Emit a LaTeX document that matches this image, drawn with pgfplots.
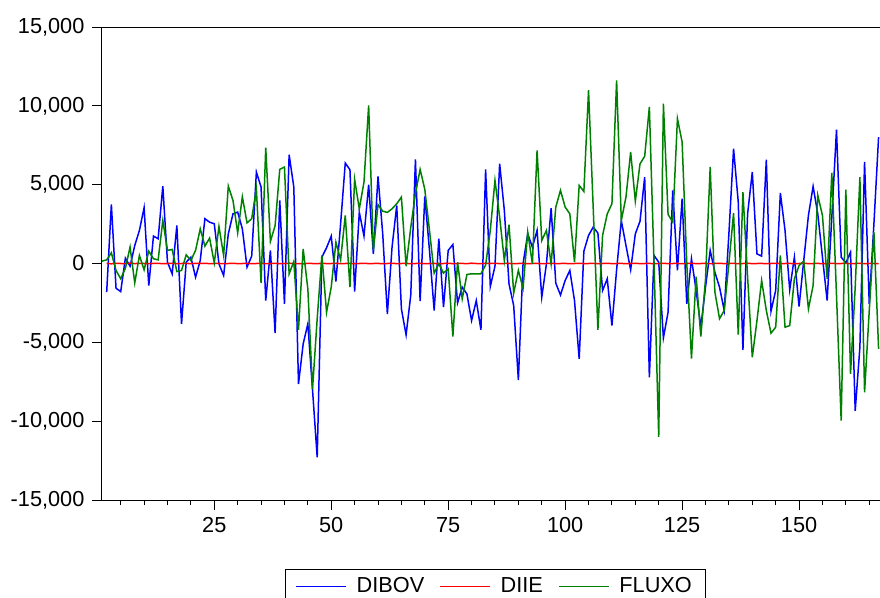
\documentclass[border=0pt]{standalone}
\usepackage{fontspec}
\setmainfont{Liberation Sans}
\usepackage{pgfplots}
\usepackage{pgfplotstable}
\pgfplotsset{compat=1.18}
\pgfplotstableread{
n dibov diie fluxo
1 nan nan 150
2 -1820 10 230
3 3750 -20 680
4 -1570 15 -440
5 -1780 0 -970
6 340 -10 -300
7 -170 20 1040
8 1140 -5 -1230
9 2100 10 510
10 3540 0 -400
11 -1400 -15 780
12 1740 5 300
13 1570 10 230
14 4910 -10 2730
15 85 0 830
16 -660 15 890
17 2410 -5 -510
18 -3830 0 -440
19 85 10 550
20 400 -10 190
21 -870 5 830
22 190 0 2200
23 2840 10 1100
24 2620 -5 1610
25 2520 0 40
26 -20 5 2350
27 -760 -10 510
28 1880 0 4910
29 3150 10 4000
30 3260 -5 1950
31 2200 0 4230
32 -230 5 2580
33 470 -10 2840
34 5800 0 4740
35 4850 10 -1250
36 -2350 -5 7350
37 830 0 1400
38 -4420 5 2400
39 4000 -5 5970
40 -2560 0 6120
41 6900 20 -660
42 4850 -10 130
43 -7640 0 -4210
44 -5100 -20 930
45 -3830 10 -1610
46 -8000 0 -7960
47 -12300 -15 -3500
48 400 20 510
49 1000 -5 -3090
50 1740 0 -1500
51 -1140 10 1350
52 2500 -5 230
53 6370 0 3050
54 5950 5 -1500
55 -1780 -10 5330
56 3260 0 3470
57 1740 10 5160
58 5000 -5 10030
59 610 0 830
60 5530 5 3730
61 1900 -10 3320
62 -3200 0 3240
63 1040 10 3470
64 3680 -5 3790
65 -2880 0 4210
66 -4530 5 -170
67 -2000 -10 2300
68 6600 0 4440
69 -2390 10 5970
70 4260 -5 4700
71 830 0 2100
72 -2980 5 -610
73 1570 -10 -20
74 -2770 0 -610
75 830 10 -340
76 1200 -5 -4630
77 -2500 0 85
78 -1500 5 -2240
79 -1930 -10 -700
80 -3620 20 -650
81 -2350 0 -650
82 -4210 -10 -650
83 5970 5 -100
84 -1460 0 2100
85 -170 10 5270
86 6330 -5 2940
87 3370 0 190
88 -1290 5 2460
89 -2670 -10 -1880
90 -7390 0 -440
91 -20 10 -1570
92 1880 -5 1990
93 1040 0 -20
94 2100 5 7180
95 -2140 -10 1460
96 -20 0 2100
97 3510 10 -20
98 -1250 -5 3580
99 -2000 0 4640
100 -1080 5 3580
101 -440 -10 3150
102 -2350 0 85
103 -6050 10 4950
104 780 -5 4570
105 1780 0 10990
106 2310 5 3500
107 1930 -10 -4210
108 -1710 0 1780
109 -970 10 3150
110 -3940 -5 3790
111 -400 0 11620
112 2730 5 2730
113 1140 -10 4210
114 -400 0 7070
115 1880 10 3960
116 2680 -5 6320
117 5480 0 6800
118 -7220 5 9930
119 510 -10 0
120 85 0 -11000
121 -4720 10 10140
122 -3090 -5 3110
123 4640 0 2630
124 -440 5 9190
125 4110 -10 7710
126 -2560 0 0
127 300 10 -6030
128 -1710 -5 -830
129 -4040 0 -4640
130 -1500 5 -1000
131 830 -10 6120
132 -550 0 -1800
133 -1500 10 -3500
134 -2980 -5 -2980
135 1880 0 0
136 7280 5 3200
137 3900 -10 -4510
138 -5480 0 4530
139 3150 10 -870
140 5800 -5 -5950
141 610 0 -3620
142 470 5 -1080
143 6580 -10 -2980
144 -3030 0 -4420
145 -1710 10 -4040
146 4470 -5 510
147 2100 0 -4040
148 -1670 5 -3940
149 400 -10 -970
150 -2730 0 -130
151 190 10 150
152 3050 -5 -2880
153 4890 0 -1400
154 3150 5 4320
155 400 -10 3050
156 -2350 0 -970
157 2940 10 5740
158 8490 -5 -2000
159 400 0 -9970
160 40 5 4680
161 720 -10 -7000
162 -9340 0 -1500
163 -5310 10 5480
164 6440 -5 -8170
165 -2560 0 -3000
166 2520 5 1990
167 8020 -10 -5420
}\datatable
\definecolor{ebblue}{RGB}{0,0,255}
\definecolor{ebred}{RGB}{255,0,0}
\definecolor{ebgreen}{RGB}{0,128,0}
\begin{document}
\fontsize{10.9}{13}\selectfont
\begin{tikzpicture}
\begin{axis}[
  at={(0,0)}, anchor=south west,
  scale only axis, width=389bp, height=236.5bp,
  xmin=1, xmax=167.3, ymin=-15000, ymax=15000,
  unbounded coords=jump,
  scaled y ticks=false, scaled x ticks=false,
  xtick={25,50,75,100,125,150},
  xticklabels={25,50,75,100,125,150},
  minor xtick={5,10,...,165},
  ytick={-15000,-10000,-5000,0,5000,10000,15000},
  yticklabels={{-15,000},{-10,000},{-5,000},{0},{5,000},{10,000},{15,000}},
  tick align=outside,
  xtick pos=bottom, ytick pos=left,
  major tick length=5bp, minor tick length=2.5bp,
  every tick/.style={black, line width=0.5bp},
  every minor tick/.style={black, line width=0.5bp},
  axis line style={line width=0.5bp},
  tick label style={font=\fontsize{10.9}{13}\selectfont},
  legend columns=3,
  legend style={at={(0.5058,-0.1459)}, anchor=north, draw=black, line width=0.5bp,
    font=\fontsize{10.9}{13}\selectfont, inner xsep=5bp,
    /tikz/every even column/.append style={column sep=5.5bp}},
  legend image code/.code={\draw[#1] (0bp,0bp) -- (25bp,0bp); \path (28bp,0bp);},
]
\addplot[ebblue, line width=0.75bp] table[x=n,y=dibov]{\datatable};
\addlegendentry{DIBOV}
\addplot[ebred, line width=0.75bp] table[x=n,y=diie]{\datatable};
\addlegendentry{DIIE}
\addplot[ebgreen, line width=0.75bp] table[x=n,y=fluxo]{\datatable};
\addlegendentry{FLUXO}
\end{axis}
\pgfresetboundingbox
\useasboundingbox (-51bp,-49bp) rectangle (389bp,250bp);
\end{tikzpicture}
\end{document}
